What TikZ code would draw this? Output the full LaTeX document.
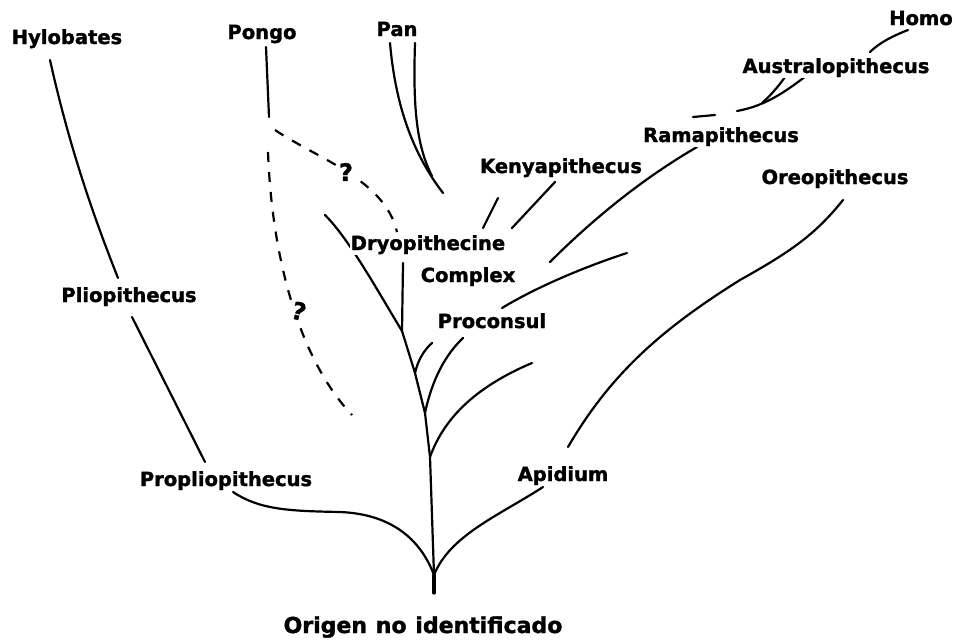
\documentclass[tikz,border=0pt]{standalone}
\usepackage{fontspec}
\setmainfont{DejaVu Sans}[BoldFeatures={FakeBold=1.5}]
\begin{document}
\begin{tikzpicture}[x=1pt,y=-1pt,
  taxon/.style={font=\bfseries\fontsize{19.5pt}{22pt}\selectfont, anchor=base, inner sep=1pt, fill=white},
  qmark/.style={font=\bfseries\fontsize{24pt}{26pt}\selectfont, inner sep=0.5pt, fill=white},
  branch/.style={line width=2.2pt, line cap=round},
  doubtful/.style={line width=2.2pt, dash pattern=on 10pt off 10pt},
]
\useasboundingbox (0,0) rectangle (955,640);

% ---------- coordinates ----------
\coordinate (root) at (434,575);
\coordinate (rootend) at (434,593);
\coordinate (n1) at (430,457);
\coordinate (n2) at (425,413);
\coordinate (n3) at (415,373);
\coordinate (n4) at (402,331);

% ---------- solid branches ----------
% Hylobates lineage
\coordinate (hylA) at (50,60);   \coordinate (hylB) at (118,278);
\draw[branch] (hylA) .. controls (70,150) and (95,220) .. (hylB);
\coordinate (pliA) at (132,317); \coordinate (pliB) at (205,462);
\draw[branch] (pliA) -- (pliB);
\coordinate (proA) at (233,492); \coordinate (proM) at (340,512);
\draw[branch] (proA) .. controls (260,510) and (290,511) .. (proM)
   .. controls (390,514) and (420,538) .. (root);
% Apidium
\coordinate (apiA) at (543,487);
\draw[branch] (apiA) .. controls (500,515) and (450,535) .. (root);
% trunk
\draw[line width=3.2pt, line cap=round] (root) -- (rootend);
\draw[branch] (root) -- (n1) -- (n2) -- (n3) -- (n4);
\coordinate (b1) at (532,363);
\draw[branch] (n1) .. controls (445,415) and (480,385) .. (b1);
\coordinate (b2) at (463,338);
\draw[branch] (n2) .. controls (432,380) and (445,355) .. (b2);
\coordinate (b3) at (432,343);
\draw[branch] (n3) .. controls (418,360) and (424,350) .. (b3);
\coordinate (vtop) at (403,263);
\draw[branch] (n4) -- (vtop);
\coordinate (ltop) at (325,215);
\draw[branch] (n4) .. controls (380,295) and (350,240) .. (ltop);
% Pongo
\coordinate (pgA) at (266,47); \coordinate (pgB) at (269,117);
\draw[branch] (pgA) -- (pgB);
% Pan
\coordinate (panL) at (390,43); \coordinate (panR) at (415,43);
\coordinate (panE) at (443,193); \coordinate (panM) at (432,176);
\draw[branch] (panL) .. controls (395,100) and (410,150) .. (panE);
\draw[branch] (panR) .. controls (413,105) and (416,145) .. (panM);
% Kenyapithecus
\coordinate (kA) at (498,198); \coordinate (kB) at (483,228);
\draw[branch] (kA) -- (kB);
\coordinate (kC) at (555,182); \coordinate (kD) at (512,228);
\draw[branch] (kC) -- (kD);
% Ramapithecus
\coordinate (rA) at (550,262); \coordinate (rB) at (697,147);
\draw[branch] (rA) .. controls (590,222) and (640,180) .. (rB);
% Proconsul upper
\coordinate (pcA) at (502,308); \coordinate (pcB) at (627,253);
\draw[branch] (pcA) .. controls (540,285) and (590,265) .. (pcB);
% Oreopithecus
\coordinate (oA) at (843,200); \coordinate (oM) at (740,280); \coordinate (oB) at (568,447);
\draw[branch] (oA) .. controls (815,235) and (790,252) .. (oM)
   .. controls (660,330) and (610,375) .. (oB);
% Homo
\coordinate (hA) at (908,30); \coordinate (hB) at (870,52);
\draw[branch] (hA) .. controls (890,37) and (878,44) .. (hB);
% Australopithecus
\coordinate (aA) at (785,77); \coordinate (aB) at (762,103);
\draw[branch] (aA) .. controls (778,87) and (770,96) .. (aB);
\coordinate (aC) at (806,76); \coordinate (aD) at (737,111);
\draw[branch] (aC) .. controls (785,92) and (765,106) .. (aD);
\coordinate (dA) at (693,117); \coordinate (dB) at (715,115);
\draw[branch] (dA) -- (dB);

% ---------- dashed (uncertain) ----------
\coordinate (d1A) at (275,130); \coordinate (d1B) at (397,232);
\draw[doubtful] (d1A) .. controls (320,160) and (385,180) .. (d1B);
\coordinate (d2A) at (268,152); \coordinate (d2B) at (352,415);
\draw[doubtful] (d2A) .. controls (272,260) and (300,360) .. (d2B);
\node[qmark] (q1) at (346,172) {?};
\node[qmark, rotate=-15] (q2) at (299,311) {?};

% ---------- labels ----------
\node[taxon] (hylobates) at (67,44) {Hylobates};
\node[taxon] (pongo) at (262,39) {Pongo};
\node[taxon] (pan) at (397,36) {Pan};
\node[taxon] (homo) at (921,25) {Homo};
\node[taxon] (australo) at (836,73) {Australopithecus};
\node[taxon] (ramap) at (721,142) {Ramapithecus};
\node[taxon] (oreop) at (835,184) {Oreopithecus};
\node[taxon] (kenya) at (561,173) {Kenyapithecus};
\node[taxon] (dryo) at (428,250) {Dryopithecine};
\node[taxon] (complex) at (468,282) {Complex};
\node[taxon] (proconsul) at (492,328) {Proconsul};
\node[taxon] (pliop) at (129,302) {Pliopithecus};
\node[taxon] (propliop) at (226,486) {Propliopithecus};
\node[taxon] (apidium) at (563,481) {Apidium};
\node[taxon, font=\bfseries\fontsize{22pt}{24pt}\selectfont] (origen) at (423,633) {Origen\hspace{0.4em}no\hspace{0.4em}identificado};
\end{tikzpicture}
\end{document}
